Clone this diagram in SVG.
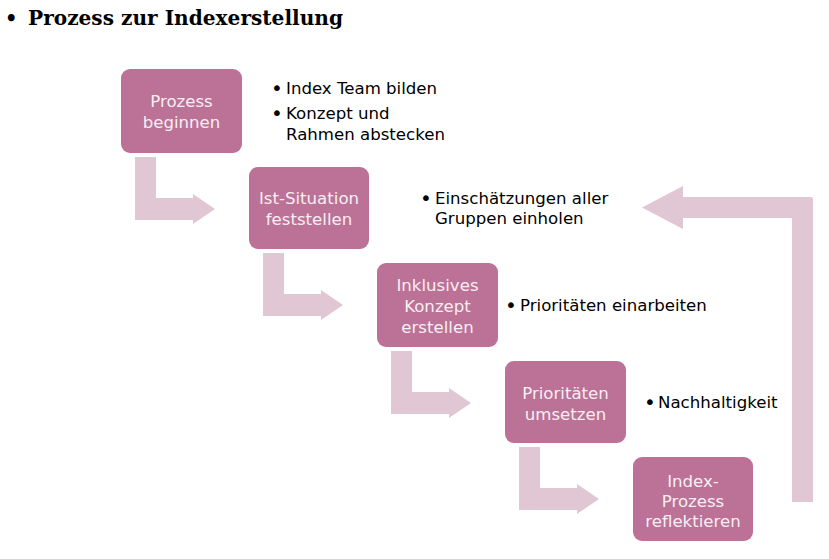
<svg xmlns="http://www.w3.org/2000/svg" width="829" height="559" viewBox="0 0 829 559">
<style>
.box{fill:#bb7296;}
.arr{fill:#e1c6d3;}
.bt{font-family:"DejaVu Sans",Verdana,sans-serif;font-size:16.6px;fill:#f8eef3;text-anchor:middle;}
.tx{font-family:"DejaVu Sans",Verdana,sans-serif;font-size:16.6px;fill:#000;}
.bu{font-family:"DejaVu Sans",Verdana,sans-serif;font-size:20px;fill:#000;}
.title{font-family:"DejaVu Serif","Liberation Serif",serif;font-weight:bold;font-size:19.5px;fill:#000;}
</style>
<rect width="829" height="559" fill="#ffffff"/>
<g id="title">
<text x="5" y="25" class="title">•</text>
<text x="28" y="25" class="title" textLength="315" lengthAdjust="spacingAndGlyphs">Prozess zur Indexerstellung</text>
</g>
<g id="connectors">
<path class="arr" d="M135 157 H156 V198 H193 V194 L215 209 L193 224 V220 H135 Z"/>
<path class="arr" d="M263 253 H284 V294 H321 V290 L343 305 L321 320 V316 H263 Z"/>
<path class="arr" d="M391 351 H412 V392 H449 V388 L471 403 L449 418 V414 H391 Z"/>
<path class="arr" d="M519 447 H540 V488 H577 V484 L599 499 L577 514 V510 H519 Z"/>
<path class="arr" d="M813 502 V199 Q813 197 811 197 H683 V186 L642 207.5 L683 229 V218 H792 V502 Z"/>
</g>
<g id="node1">
<rect class="box" x="121" y="69" width="121" height="84" rx="9"/>
<text class="bt" x="181.5" y="107">Prozess</text>
<text class="bt" x="181.5" y="128">beginnen</text>
</g>
<g id="node2">
<rect class="box" x="249" y="167" width="120" height="82" rx="9"/>
<text class="bt" x="309" y="204">Ist-Situation</text>
<text class="bt" x="309" y="225">feststellen</text>
</g>
<g id="node3">
<rect class="box" x="377" y="263" width="121" height="84" rx="9"/>
<text class="bt" x="437.5" y="291">Inklusives</text>
<text class="bt" x="437.5" y="312">Konzept</text>
<text class="bt" x="437.5" y="333">erstellen</text>
</g>
<g id="node4">
<rect class="box" x="505" y="361" width="121" height="82" rx="9"/>
<text class="bt" x="565.5" y="399">Prioritäten</text>
<text class="bt" x="565.5" y="420">umsetzen</text>
</g>
<g id="node5">
<rect class="box" x="633" y="457" width="120" height="84" rx="9"/>
<text class="bt" x="693" y="487">Index-</text>
<text class="bt" x="693" y="507">Prozess</text>
<text class="bt" x="693" y="527">reflektieren</text>
</g>
<g id="notes1">
<text class="bu" x="271" y="95">•</text>
<text class="tx" x="286" y="94">Index Team bilden</text>
<text class="bu" x="271" y="120">•</text>
<text class="tx" x="286" y="119">Konzept und</text>
<text class="tx" x="286" y="140">Rahmen abstecken</text>
</g>
<g id="notes2">
<text class="bu" x="420" y="205">•</text>
<text class="tx" x="435" y="204">Einschätzungen aller</text>
<text class="tx" x="435" y="224">Gruppen einholen</text>
</g>
<g id="notes3">
<text class="bu" x="505" y="312">•</text>
<text class="tx" x="520" y="311">Prioritäten einarbeiten</text>
</g>
<g id="notes4">
<text class="bu" x="644" y="409">•</text>
<text class="tx" x="658" y="408">Nachhaltigkeit</text>
</g>
</svg>
